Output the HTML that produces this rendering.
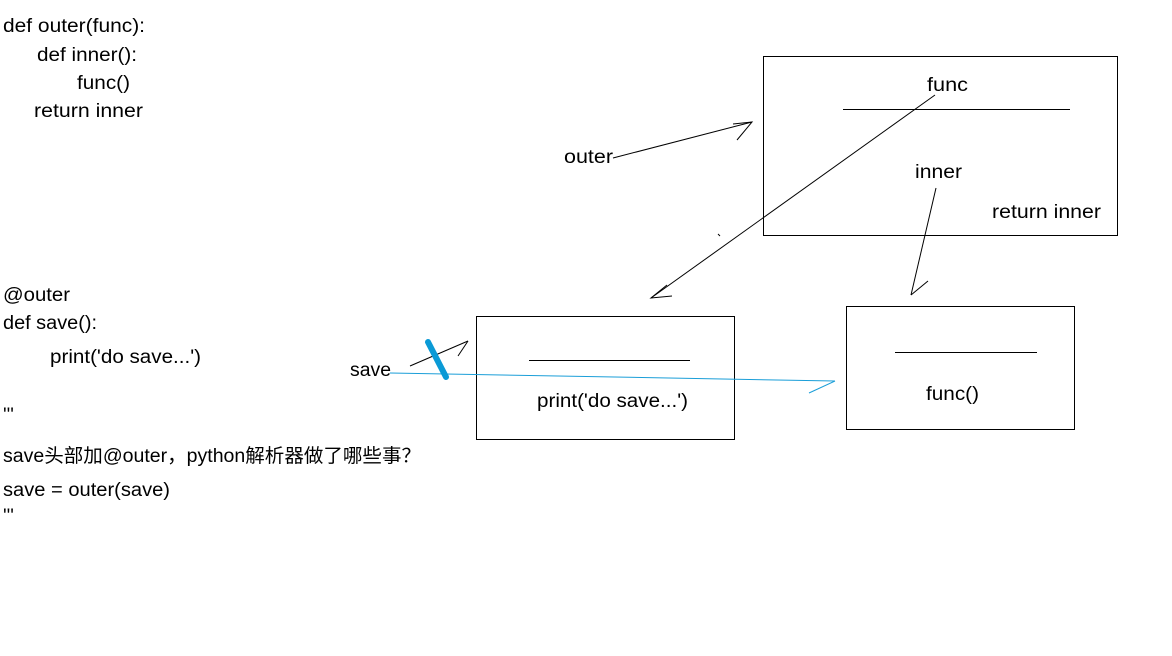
<!DOCTYPE html>
<html><head><meta charset="utf-8"><style>
html,body{margin:0;padding:0;background:#fff;}
svg{display:block}
text{font-family:"Liberation Sans","Noto Sans CJK SC",sans-serif;font-size:19px;fill:#000}
</style></head><body>
<svg width="1172" height="656" viewBox="0 0 1172 656" xmlns="http://www.w3.org/2000/svg">
<rect width="1172" height="656" fill="#fff"/>
<text x="3" y="32" textLength="142" lengthAdjust="spacingAndGlyphs">def outer(func):</text>
<text x="37" y="61" textLength="100" lengthAdjust="spacingAndGlyphs">def inner():</text>
<text x="77" y="89" textLength="53" lengthAdjust="spacingAndGlyphs">func()</text>
<text x="34" y="117" textLength="109" lengthAdjust="spacingAndGlyphs">return inner</text>
<text x="3" y="301" textLength="67" lengthAdjust="spacingAndGlyphs">@outer</text>
<text x="3" y="329" textLength="94" lengthAdjust="spacingAndGlyphs">def save():</text>
<text x="50" y="363" textLength="151" lengthAdjust="spacingAndGlyphs">print('do save...')</text>
<text x="3" y="421">'''</text>
<text x="3" y="462" textLength="418" lengthAdjust="spacingAndGlyphs">save头部加@outer，python解析器做了哪些事？</text>
<text x="3" y="496" textLength="167" lengthAdjust="spacingAndGlyphs">save = outer(save)</text>
<text x="3" y="522">'''</text>

<rect x="763.5" y="56.5" width="354" height="179" fill="none" stroke="#000"/>
<text x="927" y="91" textLength="41" lengthAdjust="spacingAndGlyphs">func</text>
<line x1="843" y1="109.5" x2="1070" y2="109.5" stroke="#000"/>
<text x="915" y="178" textLength="47" lengthAdjust="spacingAndGlyphs">inner</text>
<text x="992" y="218" textLength="109" lengthAdjust="spacingAndGlyphs">return inner</text>

<rect x="476.5" y="316.5" width="258" height="123" fill="none" stroke="#000"/>
<line x1="529" y1="360.5" x2="690" y2="360.5" stroke="#000"/>
<text x="537" y="407" textLength="151" lengthAdjust="spacingAndGlyphs">print('do save...')</text>

<rect x="846.5" y="306.5" width="228" height="123" fill="none" stroke="#000"/>
<line x1="895" y1="352.5" x2="1037" y2="352.5" stroke="#000"/>
<text x="926" y="400" textLength="53" lengthAdjust="spacingAndGlyphs">func()</text>

<text x="564" y="163" textLength="49" lengthAdjust="spacingAndGlyphs">outer</text>
<text x="350" y="376" textLength="41" lengthAdjust="spacingAndGlyphs">save</text>

<g stroke="#000" stroke-width="1" fill="none">
<line x1="613" y1="158" x2="752" y2="122"/>
<polyline points="733,124 752,122 737,140"/>
<line x1="935" y1="95" x2="651" y2="298"/>
<polyline points="672,296 651,298 667,285"/>
<line x1="936" y1="188" x2="911" y2="295"/>
<line x1="911" y1="295" x2="928" y2="281"/>
<line x1="410" y1="366" x2="468" y2="341"/>
<line x1="468" y1="341" x2="458" y2="356"/>
<line x1="718" y1="234" x2="720" y2="236"/>
</g>
<g stroke="#1a9ed8" stroke-width="1" fill="none">
<line x1="390" y1="373" x2="835" y2="381"/>
<line x1="835" y1="381" x2="809" y2="393"/>
</g>
<line x1="428" y1="342" x2="446" y2="377" stroke="#0a9ad6" stroke-width="6" stroke-linecap="round"/>
</svg>
</body></html>
